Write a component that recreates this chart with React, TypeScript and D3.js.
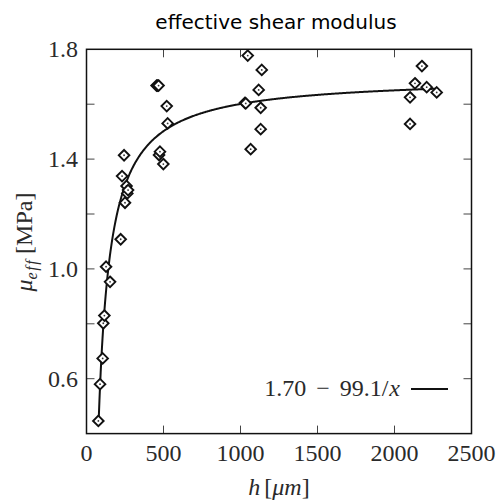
import React from "react";
import * as d3 from "d3";

const hValues = [
  77, 88, 105, 109, 116, 127, 153, 222, 231, 244, 250, 260, 265, 270,
  455, 462, 468, 471, 477, 499, 521, 527,
  1029, 1034, 1047, 1066, 1118, 1131, 1131, 1138,
  2101, 2101, 2133, 2178, 2209, 2274,
];
const muValues = [
  0.446, 0.58, 0.674, 0.802, 0.83, 1.008, 0.953, 1.108, 1.338, 1.414, 1.241, 1.302, 1.275, 1.287,
  1.668, 1.668, 1.668, 1.415, 1.427, 1.382, 1.593, 1.53,
  1.605, 1.603, 1.777, 1.436, 1.652, 1.587, 1.509, 1.725,
  1.625, 1.528, 1.676, 1.739, 1.662, 1.643,
];
const fitA = 1.7;
const fitB = 99.1;
const xTicks = [0, 500, 1000, 1500, 2000, 2500];
const yTicksMajor = [0.6, 1.0, 1.4, 1.8];
const yTicksAll = [0.4, 0.6, 0.8, 1.0, 1.2, 1.4, 1.6, 1.8];

export default function App() {
  const W = 500, H = 504;
  const L = 86.5, R = 471.5, T = 49.3, B = 433.6;
  const x = d3.scaleLinear().domain([0, 2500]).range([L, R]);
  const y = d3.scaleLinear().domain([0.4, 1.8]).range([B, T]);
  const fitXs = d3.range(80, 2274, 4).concat([2274]);
  const line = d3.line<number>().x((d) => x(d)).y((d) => y(fitA - fitB / d));
  const serif = "'Liberation Serif', 'Times New Roman', serif";
  const tick = 8;
  const txtCol = "#2a2a2a";
  return (
    <svg width={W} height={H} style={{ position: "absolute", left: 0, top: 0 }}>
      <rect width={W} height={H} fill="white" />
      <text x={276} y={29} textAnchor="middle" fontFamily="'DejaVu Sans', sans-serif" fontSize={20} fill="#000">
        effective shear modulus
      </text>
      {xTicks.slice(1, -1).map((t) => (
        <g key={"xt" + t}>
          <line x1={x(t)} x2={x(t)} y1={B} y2={B - tick} stroke="#444" strokeWidth={1} />
          <line x1={x(t)} x2={x(t)} y1={T} y2={T + tick} stroke="#444" strokeWidth={1} />
        </g>
      ))}
      {yTicksAll.slice(1, -1).map((t) => (
        <g key={"yt" + t}>
          <line x1={L} x2={L + tick} y1={y(t)} y2={y(t)} stroke="#444" strokeWidth={1} />
          <line x1={R} x2={R - tick} y1={y(t)} y2={y(t)} stroke="#444" strokeWidth={1} />
        </g>
      ))}
      <rect x={L} y={T} width={R - L} height={B - T} fill="none" stroke="#111" strokeWidth={1.5} />
      {xTicks.map((t) => (
        <text key={"xl" + t} x={x(t)} y={461} textAnchor="middle" fontFamily={serif} fontSize={24} fill={txtCol}>
          {t}
        </text>
      ))}
      {yTicksMajor.map((t) => (
        <text key={"yl" + t} x={78} y={y(t) + 8} textAnchor="end" fontFamily={serif} fontSize={24} fill={txtCol}>
          {t.toFixed(1)}
        </text>
      ))}
      <text x={279} y={495} textAnchor="middle" fontFamily={serif} fontSize={24} fill={txtCol}>
        <tspan fontStyle="italic">h</tspan>
        <tspan dx={4}>[</tspan>
        <tspan fontStyle="italic">μm</tspan>
        <tspan>]</tspan>
      </text>
      <text transform="translate(32,242) rotate(-90)" textAnchor="middle" fontFamily={serif} fontSize={24} fill={txtCol}>
        <tspan fontStyle="italic">μ</tspan>
        <tspan fontStyle="italic" fontSize={16} dy={5} letterSpacing={1.5}>eff</tspan>
        <tspan dy={-5} dx={5}>[MPa]</tspan>
      </text>
      <path d={line(fitXs) || ""} fill="none" stroke="#111" strokeWidth={2} />
      {hValues.map((h, i) => {
        const cx = x(h), cy = y(muValues[i]);
        const s = 5.3;
        return (
          <g key={"p" + i}>
            <path
              d={`M${cx},${cy - s}L${cx + s},${cy}L${cx},${cy + s}L${cx - s},${cy}Z`}
              fill="white"
              stroke="#111"
              strokeWidth={1.9}
            />
            <circle cx={cx} cy={cy} r={0.9} fill="#333" />
          </g>
        );
      })}
      <text x={400} y={396} textAnchor="end" fontFamily={serif} fontSize={24} fill={txtCol}>
        <tspan>1.70</tspan>
        <tspan dx={10}>−</tspan>
        <tspan dx={10}>99.1/</tspan>
        <tspan fontStyle="italic" dx={1}>x</tspan>
      </text>
      <line x1={411} x2={448} y1={389} y2={389} stroke="#111" strokeWidth={2} />
    </svg>
  );
}
